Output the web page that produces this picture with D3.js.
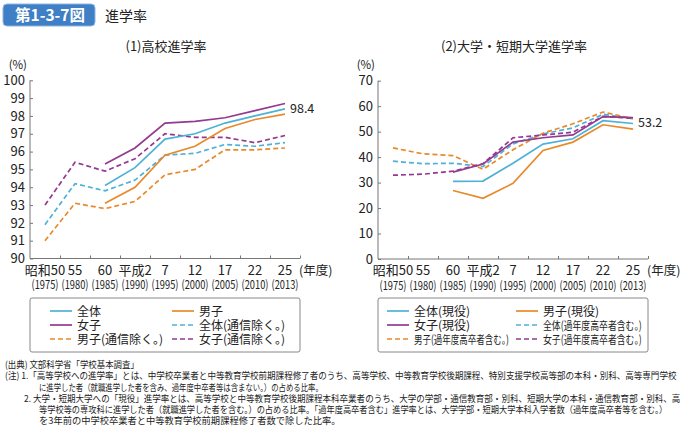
<!DOCTYPE html>
<html><head><meta charset="utf-8">
<script src="https://cdn.jsdelivr.net/npm/d3@7"></script>
<style>
body{margin:0;background:#fff;}
svg{display:block;font-family:"Noto Sans CJK JP","Noto Sans",sans-serif;}
</style></head>
<body><svg id="c" width="685" height="427"></svg>
<script>
const catTop = ["昭和50","55","60","平成2","7","12","17","22","25"];
const catBottom = ["(1975)","(1980)","(1985)","(1990)","(1995)","(2000)","(2005)","(2010)","(2013)"];

const hsTotal = [null,null,94.1,95.1,96.7,97.0,97.6,98.0,98.4];
const hsMale = [null,null,93.1,94.0,95.8,96.3,97.3,97.8,98.1];
const hsFemale = [null,null,95.3,96.2,97.6,97.7,97.9,98.3,98.7];
const hsTotalExcl = [91.9,94.2,93.8,94.4,95.8,95.9,96.4,96.3,96.5];
const hsMaleExcl = [91.0,93.1,92.8,93.2,94.7,95.0,96.1,96.1,96.2];
const hsFemaleExcl = [93.0,95.4,94.9,95.6,97.0,96.8,96.8,96.5,96.9];
const hsTicks = [90,91,92,93,94,95,96,97,98,99,100];

const uTotal = [null,null,30.5,30.6,37.6,45.1,47.2,54.3,53.2];
const uMale = [null,null,26.9,23.8,29.7,42.6,45.9,52.7,51.0];
const uFemale = [null,null,34.1,37.3,45.9,47.6,48.7,55.9,55.5];
const uTotalIncl = [38.4,37.4,37.6,36.3,45.2,49.1,51.5,56.8,55.1];
const uMaleIncl = [43.6,41.3,40.6,35.2,42.9,49.4,53.1,57.7,55.1];
const uFemaleIncl = [32.9,33.3,34.5,37.4,47.6,48.7,49.8,56.0,55.2];
const uTicks = [0,10,20,30,40,50,60,70];

const hsLegend = ["全体","男子","女子","全体(通信除く。)","男子(通信除く。)","女子(通信除く。)"];
const uLegend = ["全体(現役)","男子(現役)","女子(現役)","全体(過年度高卒者含む。)","男子(過年度高卒者含む。)","女子(過年度高卒者含む。)"];

const notes = [
 "(出典) 文部科学省「学校基本調査」",
 "(注) 1.「高等学校への進学率」とは、中学校卒業者と中等教育学校前期課程修了者のうち、高等学校、中等教育学校後期課程、特別支援学校高等部の本科・別科、高等専門学校",
 "に進学した者（就職進学した者を含み、過年度中卒者等は含まない。）の占める比率。",
 "2. 大学・短期大学への「現役」進学率とは、高等学校と中等教育学校後期課程本科卒業者のうち、大学の学部・通信教育部・別科、短期大学の本科・通信教育部・別科、高",
 "等学校等の専攻科に進学した者（就職進学した者を含む。）の占める比率。「過年度高卒者含む」進学率とは、大学学部・短期大学本科入学者数（過年度高卒者等を含む。）",
 "を3年前の中学校卒業者と中等教育学校前期課程修了者数で除した比率。"
];

const BLUE="#4fb1d7", ORANGE="#e8892a", PURPLE="#943a90";
const svg = d3.select("#c");

function fitText(parent, str, x, y, w, fs, anchor){
  const gg = parent.append("g");
  const t = gg.append("text").attr("x",0).attr("y",0).attr("font-size",fs).attr("fill","#222")
    .attr("text-anchor",anchor||"start").text(str);
  const nat = t.node().getComputedTextLength();
  const s = Math.min(1, w/nat);
  gg.attr("transform",`translate(${x},${y}) scale(${s},1)`);
  return t;
}

svg.append("rect").attr("x",3).attr("y",4).attr("width",92).attr("height",22).attr("rx",4)
  .attr("fill","#3f7fc5").attr("stroke","#8fb5e0").attr("stroke-width",1);
svg.append("text").attr("x",50).attr("y",20.5).attr("text-anchor","middle").attr("fill","#fff")
  .attr("font-size",15.5).attr("font-weight","bold").text("第1-3-7図");
svg.append("text").attr("x",105).attr("y",20.5).attr("font-size",14).attr("fill","#222").text("進学率");

function chart(o){
  const g = svg.append("g");
  const x = d3.scaleBand().domain(d3.range(9)).range([o.x0,o.x1]);
  const xe = d3.scaleLinear().domain([0,9]).range([o.x0,o.x1]);
  const y = d3.scaleLinear().domain(o.ydom).range([o.yb,o.yt]);
  g.append("text").attr("x",o.tx).attr("y",51).attr("text-anchor","middle").attr("font-size",13).attr("fill","#222").text(o.title);
  g.append("text").attr("x",o.x0-3).attr("y",69).attr("text-anchor","end").attr("font-size",11.5).attr("fill","#222").text("(%)");
  const ya = g.append("g").attr("transform",`translate(${o.x0},0)`)
    .call(d3.axisLeft(y).tickValues(o.ticks).tickSize(-3).tickPadding(5).tickFormat(d3.format("d")));
  ya.select(".domain").attr("stroke","#777").attr("d",`M-0,${o.yt}V${o.yb}`);
  ya.selectAll(".tick line").attr("stroke","#777");
  ya.selectAll("text").attr("font-size",13).attr("fill","#222").attr("font-family","Noto Sans CJK JP, sans-serif");
  const xa = g.append("g").attr("transform",`translate(0,${o.yb})`)
    .call(d3.axisBottom(xe).tickValues(d3.range(1,10)).tickSize(-3).tickFormat(""));
  xa.select(".domain").attr("stroke","#777").attr("d",`M${o.x0},0H${o.x1}`);
  xa.selectAll(".tick line").attr("stroke","#777");
  catTop.forEach((d,i)=>{
    g.append("text").attr("x",x(i)+x.bandwidth()/2).attr("y",o.yb+16).attr("text-anchor","middle")
      .attr("font-size",13).attr("fill","#222").text(d);
  });
  catBottom.forEach((d,i)=>{
    fitText(g, d, x(i)+x.bandwidth()/2, o.yb+30.5, 27, 12, "middle");
  });
  g.append("text").attr("x",o.x1-1).attr("y",o.yb+16).attr("font-size",12.5).attr("fill","#222").text("(年度)");
  const line = d3.line().defined(d=>d!=null).x((d,i)=>x(i)+x.bandwidth()/2).y(d=>y(d));
  o.series.forEach(s=>{
    g.append("path").attr("d",line(s.v)).attr("fill","none").attr("stroke",s.c).attr("stroke-width",1.7)
      .attr("stroke-dasharray",s.dash?"5,3":null);
  });
  g.append("text").attr("x",x(8)+x.bandwidth()/2+5).attr("y",y(o.lab.v)+4).attr("font-size",12.5).attr("fill","#222").text(o.lab.t);
  g.append("rect").attr("x",o.x0).attr("y",298).attr("width",o.x1-o.x0).attr("height",54).attr("rx",2)
    .attr("fill","none").attr("stroke","#888").attr("stroke-width",1);
  const cols=[BLUE,ORANGE,PURPLE,BLUE,ORANGE,PURPLE];
  d3.range(6).forEach(i=>{
    const col = i%2, row=Math.floor(i/2);
    const lx = o.x0 + (col===0?o.lc1:o.lc2);
    const ly = 311 + row*14;
    const dash = i>=3;
    g.append("line").attr("x1",lx).attr("x2",lx+22).attr("y1",ly).attr("y2",ly)
      .attr("stroke",cols[i]).attr("stroke-width",1.7).attr("stroke-dasharray",dash?"5,3":null);
    if(o.lw[i]) fitText(g, o.leg[i], lx+27, ly+4.5, o.lw[i], o.lfs[i]);
    else g.append("text").attr("x",lx+27).attr("y",ly+4.5).attr("font-size",o.lfs[i]).attr("fill","#222").text(o.leg[i]);
  });
}

chart({x0:30,x1:300,yb:258.5,yt:80.3,ydom:[90,100],ticks:hsTicks,tx:166,title:"(1)高校進学率",
  series:[{v:hsTotalExcl,c:BLUE,dash:1},{v:hsMaleExcl,c:ORANGE,dash:1},{v:hsFemaleExcl,c:PURPLE,dash:1},
          {v:hsMale,c:ORANGE},{v:hsTotal,c:BLUE},{v:hsFemale,c:PURPLE}],
  lab:{v:98.4,t:"98.4"},leg:hsLegend,lc1:20,lc2:142,lfs:[12,12,12,12,12,12],lw:[0,0,0,0,0,0]});
chart({x0:378,x1:648,yb:259,yt:80.7,ydom:[0,70],ticks:uTicks,tx:514,title:"(2)大学・短期大学進学率",
  series:[{v:uTotalIncl,c:BLUE,dash:1},{v:uMaleIncl,c:ORANGE,dash:1},{v:uFemaleIncl,c:PURPLE,dash:1},
          {v:uMale,c:ORANGE},{v:uTotal,c:BLUE},{v:uFemale,c:PURPLE}],
  lab:{v:53.2,t:"53.2"},leg:uLegend,lc1:9,lc2:138,lfs:[12,12,12,11.5,11.5,11.5],lw:[0,0,0,99,95,99]});

const nx=[5,5,39,24,39,39], ny=[367.5,379,390.5,402,413,424];
const nw=[134,673,284,657,629,302];
notes.forEach((t,i)=>{ fitText(svg, t, nx[i], ny[i], nw[i], 9.5); });
</script></body></html>
